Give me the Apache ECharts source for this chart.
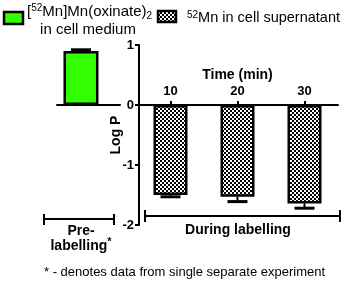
<!DOCTYPE html>
<html>
<head>
<meta charset="utf-8">
<script src="https://cdn.jsdelivr.net/npm/echarts@6/dist/echarts.min.js"></script>
<style>html,body{margin:0;padding:0;background:#fff}#c{width:346px;height:284px}</style>
</head>
<body>
<div id="c"></div>
<script>
// ---- data ----
const timeCategories = ['10', '20', '30'];
const supernatantLogP = [-1.50, -1.53, -1.64];
const supernatantErr = [0.03, 0.08, 0.08];
const preCategories = [''];
const mediumLogP = [0.90];
const mediumErr = [0.02];
const yMin = -2, yMax = 1, yStep = 1;

const FONT = '"Liberation Sans", Arial, sans-serif';

// checker pattern
const pc = document.createElement('canvas');
pc.width = 4; pc.height = 4;
const pctx = pc.getContext('2d');
pctx.fillStyle = '#fff'; pctx.fillRect(0, 0, 4, 4);
pctx.fillStyle = '#000'; pctx.fillRect(0, 0, 2, 2); pctx.fillRect(2, 2, 2, 2);
const checker = { image: pc, repeat: 'repeat' };

function makeErrRender(shift) {
  return function (params, api) {
    const x = api.value(0), v = api.value(1), e = api.value(2);
    const end = v >= 0 ? v + e : v - e;
    const p0 = api.coord([x, v]);
    const p1 = api.coord([x, end]);
    const cx = p0[0] + shift;
    const half = 10;
    return {
      type: 'group',
      children: [
        { type: 'line', shape: { x1: cx, y1: p0[1], x2: cx, y2: p1[1] }, style: { stroke: '#000', lineWidth: 2 } },
        { type: 'line', shape: { x1: cx - half, y1: p1[1], x2: cx + half, y2: p1[1] }, style: { stroke: '#000', lineWidth: 3 } }
      ]
    };
  };
}

const chart = echarts.init(document.getElementById('c'), null, { renderer: 'canvas' });
chart.setOption({
  animation: false,
  textStyle: { fontFamily: FONT },
  grid: [
    { left: 137, right: 8, top: 45, bottom: 59, containLabel: false },
    { left: 57, width: 63, top: 45, bottom: 59, containLabel: false },
    { left: 137, right: 8, top: 105, bottom: 59, containLabel: false }
  ],
  xAxis: [
    { type: 'category', gridIndex: 0, data: timeCategories, show: false },
    {
      type: 'category', gridIndex: 1, data: preCategories,
      axisLine: { onZero: true, lineStyle: { color: '#000', width: 2 } },
      axisTick: { show: false }, axisLabel: { show: false }
    },
    {
      type: 'category', gridIndex: 2, data: timeCategories, position: 'top',
      axisLine: { onZero: false, lineStyle: { color: '#000', width: 2 } },
      axisTick: { show: true, alignWithLabel: true, length: 4, lineStyle: { color: '#000', width: 2 } },
      axisLabel: { color: '#000', fontWeight: 'bold', fontSize: 13, margin: 7, fontFamily: FONT },
      name: 'Time (min)', nameLocation: 'middle', nameGap: 23, nameMoveOverlap: false,
      nameTextStyle: { color: '#000', fontWeight: 'bold', fontSize: 14, fontFamily: FONT }
    }
  ],
  yAxis: [
    {
      type: 'value', gridIndex: 0, min: yMin, max: yMax, interval: yStep, offset: -2,
      axisLine: { show: true, onZero: false, lineStyle: { color: '#000', width: 2 } },
      axisTick: { show: true, length: 4, lineStyle: { color: '#000', width: 2 } },
      splitLine: { show: false },
      axisLabel: { color: '#000', fontWeight: 'bold', fontSize: 13, margin: 5, fontFamily: FONT },
      name: 'Log P', nameLocation: 'middle', nameGap: 16, nameRotate: 90, nameMoveOverlap: false,
      nameTextStyle: { color: '#000', fontWeight: 'bold', fontSize: 14, fontFamily: FONT }
    },
    { type: 'value', gridIndex: 1, min: yMin, max: yMax, interval: yStep, show: false },
    { type: 'value', gridIndex: 2, min: yMin, max: 0, show: false }
  ],
  series: [
    {
      type: 'bar', xAxisIndex: 1, yAxisIndex: 1, data: mediumLogP, barWidth: 35, barGap: '-57%',
      itemStyle: { color: '#33ff00', borderColor: '#000', borderWidth: 2.5 }
    },
    {
      // empty companion series: keeps the pre-labelling bar left of its axis centre
      type: 'bar', xAxisIndex: 1, yAxisIndex: 1, data: [], barWidth: 35, silent: true
    },
    {
      type: 'custom', xAxisIndex: 1, yAxisIndex: 1, renderItem: makeErrRender(-7.5), z: 5,
      data: mediumLogP.map((v, i) => [i, v, mediumErr[i]])
    },
    {
      type: 'bar', xAxisIndex: 0, yAxisIndex: 0, data: supernatantLogP, barWidth: 34,
      itemStyle: { color: checker, borderColor: '#000', borderWidth: 2.5 }
    },
    {
      type: 'custom', xAxisIndex: 0, yAxisIndex: 0, renderItem: makeErrRender(0), z: 5,
      data: supernatantLogP.map((v, i) => [i, v, supernatantErr[i]])
    }
  ],
  graphic: [
    // legend
    { type: 'rect', shape: { x: 4, y: 12, width: 19, height: 12 }, style: { fill: '#33ff00', stroke: '#000', lineWidth: 2.5 } },
    { type: 'text', x: 27, y: 12, style: {
        text: '{m|[}{s|52}{m|Mn]Mn(oxinate)}{d|2}', verticalAlign: 'middle', fontFamily: FONT,
        rich: { m: { fontSize: 15, fontFamily: FONT, fill: '#000' }, s: { fontSize: 10, fontFamily: FONT, verticalAlign: 'top', padding: [0, 0, 6, 0] }, d: { fontSize: 10, fontFamily: FONT, verticalAlign: 'bottom', padding: [8, 0, 0, 0] } }
      } },
    { type: 'text', x: 88, y: 30, style: { text: 'in cell medium', fontSize: 15, fontFamily: FONT, fill: '#000', align: 'center', verticalAlign: 'middle' } },
    { type: 'rect', shape: { x: 158, y: 11, width: 18, height: 11 }, style: { fill: checker, stroke: '#000', lineWidth: 2.5 } },
    { type: 'text', x: 187, y: 18, style: {
        text: '{s|52}{m|Mn in cell supernatant}', verticalAlign: 'middle', fontFamily: FONT,
        rich: { m: { fontSize: 14.5, fontFamily: FONT, fill: '#000' }, s: { fontSize: 10, fontFamily: FONT, verticalAlign: 'top', padding: [0, 0, 6, 0] } }
      } },
    // brackets
    { type: 'polyline', shape: { points: [[44, 214], [44, 225]] }, style: { stroke: '#000', lineWidth: 2 } },
    { type: 'polyline', shape: { points: [[44, 219], [114, 219]] }, style: { stroke: '#000', lineWidth: 2 } },
    { type: 'polyline', shape: { points: [[114, 214], [114, 225]] }, style: { stroke: '#000', lineWidth: 2 } },
    { type: 'polyline', shape: { points: [[145, 210], [145, 222]] }, style: { stroke: '#000', lineWidth: 2 } },
    { type: 'polyline', shape: { points: [[145, 216], [340, 216]] }, style: { stroke: '#000', lineWidth: 2 } },
    { type: 'polyline', shape: { points: [[340, 210], [340, 222]] }, style: { stroke: '#000', lineWidth: 2 } },
    { type: 'text', x: 81, y: 231, style: { text: 'Pre-', fontSize: 14, fontWeight: 'bold', fontFamily: FONT, fill: '#000', align: 'center', verticalAlign: 'middle' } },
    { type: 'text', x: 81, y: 246, style: { text: 'labelling{s|*}', fontSize: 14, fontWeight: 'bold', fontFamily: FONT, fill: '#000', align: 'center', verticalAlign: 'middle',
        rich: { s: { fontSize: 11, fontWeight: 'bold', fontFamily: FONT, verticalAlign: 'top', padding: [0, 0, 8, 0] } } } },
    { type: 'text', x: 238, y: 230, style: { text: 'During labelling', fontSize: 14, fontWeight: 'bold', fontFamily: FONT, fill: '#000', align: 'center', verticalAlign: 'middle' } },
    { type: 'text', x: 44, y: 272, style: { text: '* - denotes data from single separate experiment', fontSize: 13, fontFamily: FONT, fill: '#000', align: 'left', verticalAlign: 'middle' } }
  ]
});
</script>
</body>
</html>
